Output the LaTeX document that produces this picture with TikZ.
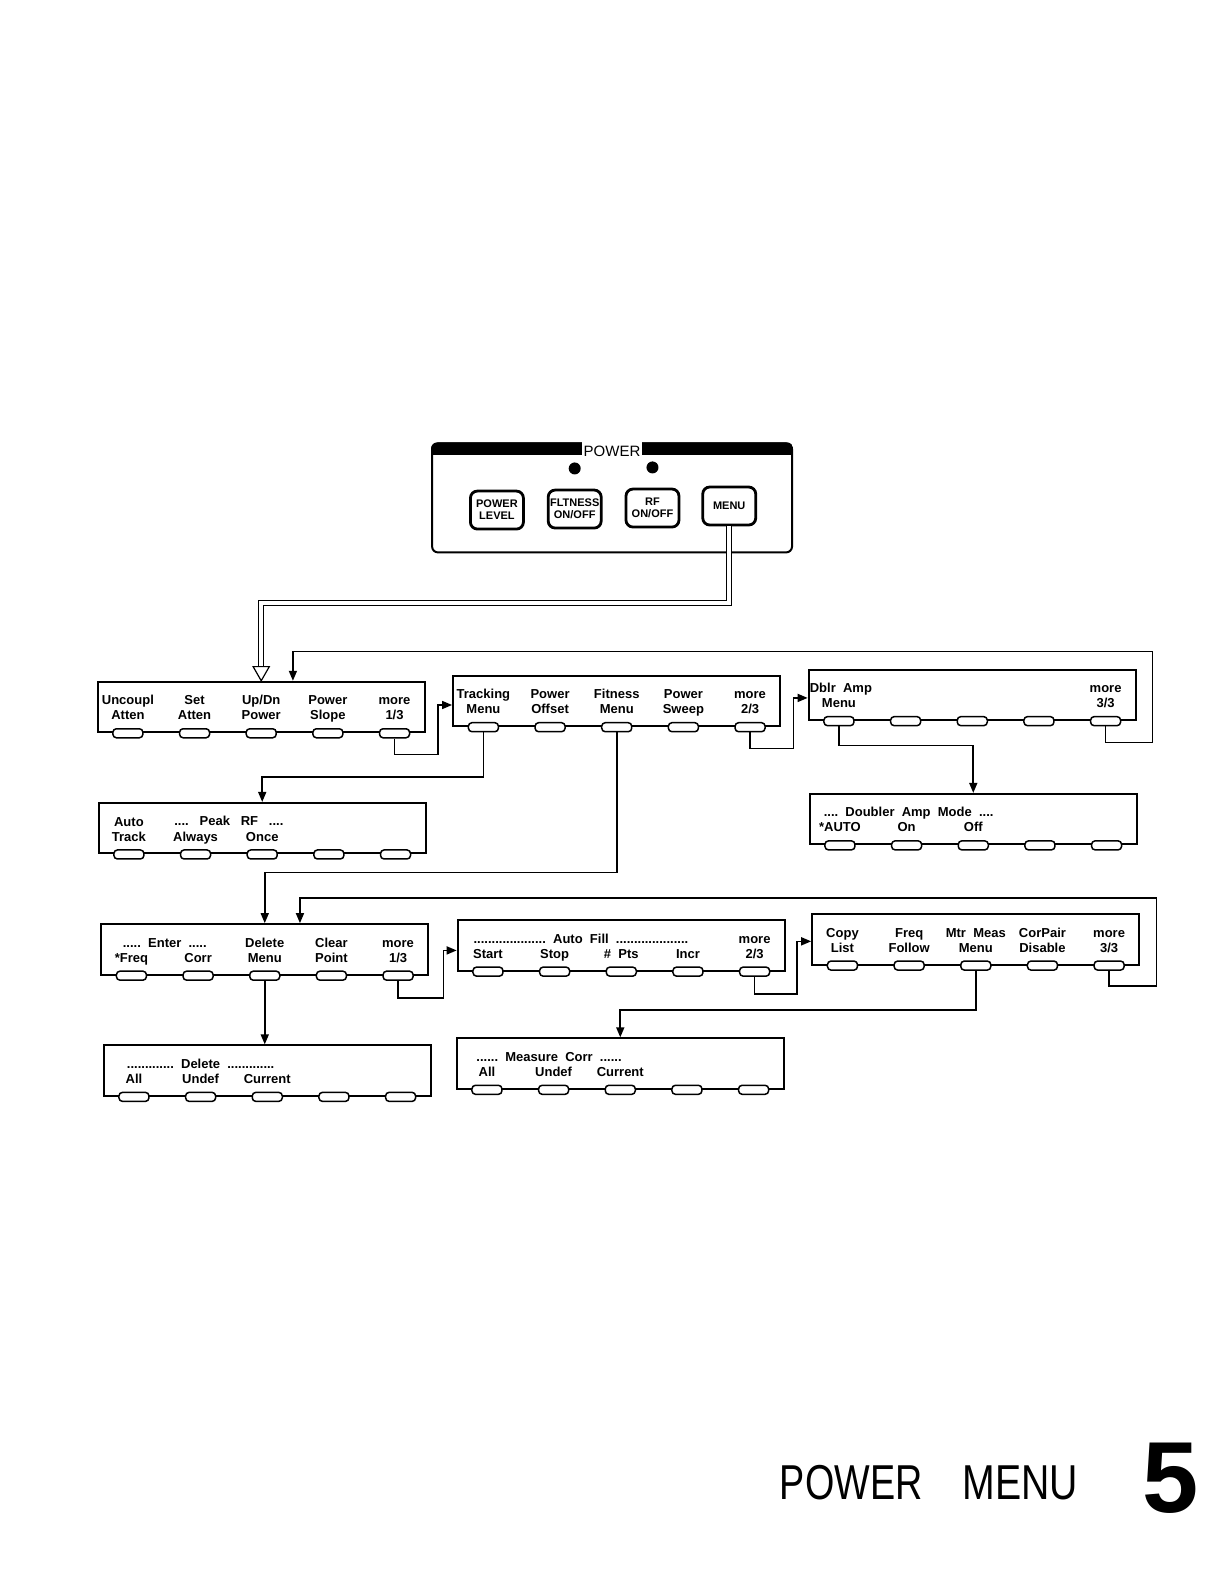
\documentclass[tikz,border=0pt]{standalone}
\usepackage{fontspec}
\setmainfont{Liberation Sans}
\usetikzlibrary{positioning,calc,arrows.meta}

\tikzset{
  menubox/.style={draw, line width=2pt, minimum width=327pt, minimum height=50.5pt, inner sep=0pt},
  softkey/.style={draw, fill=white, line width=1.5pt, rounded corners=3.5pt, minimum width=30pt, minimum height=9pt, inner sep=0pt},
  keylabel/.style={anchor=south, inner sep=0pt, text depth=0pt, align=center, yshift=8pt, font=\fontsize{13}{15}\selectfont\bfseries},
  linelabel/.style={anchor=base, inner sep=0pt, font=\fontsize{13}{15}\selectfont\bfseries},
  pkey/.style={draw, line width=2.8pt, rounded corners=7pt, minimum width=53pt, minimum height=38pt, inner sep=0pt, align=center, font=\fontsize{11}{12}\selectfont\bfseries},
  led/.style={circle, fill, inner sep=0pt, minimum size=12pt},
  link/.style={line width=1.6pt},
}

\newcommand{\softkeys}[1]{%
  \foreach \i in {1,...,5}
    \node[softkey] (#1-\i) at ($(#1.south west)+(31+66*\i-66,0)$) {};}

\begin{document}
\begin{tikzpicture}[x=1.01pt, y=-1.01pt, >={Triangle[length=10pt,width=8pt]}]
\useasboundingbox (0,0) rectangle (1211.9,1568.3);

% front panel
\node[draw, line width=2pt, rounded corners=6pt, minimum width=360pt, minimum height=109pt, inner sep=0pt] (panel) at (606,493) {};
\begin{scope}
  \clip[rounded corners=6pt] (panel.north west) rectangle (panel.south east);
  \fill (panel.north west) rectangle ($(panel.north east)+(0,12)$);
\end{scope}
\node[fill=white, inner xsep=2pt, inner ysep=0.5pt, text height=14pt, anchor=base, font=\fontsize{15}{15}\selectfont] (panelTitle) at ($(panel.north)+(0,13.5)$) {POWER};

\node[pkey] (pLevel) at (492,505) {POWER\\LEVEL};
\node[pkey] (pFlt) at (569,504) {FLTNESS\\ON/OFF};
\node[pkey] (pRf) at (646,503) {RF\\ON/OFF};
\node[pkey] (pMenu) at (722,501) {MENU};

\node[led] (ledFlt) at ($(pFlt.north)+(0,-20)$) {};
\node[led] (ledRf) at ($(pRf.north)+(0,-20)$) {};

% menu pages
\node[menubox] (mA) at (258.5,700) {};
\node[menubox] (mB) at (610.5,694) {};
\node[menubox] (mC) at (962.5,688) {};
\node[menubox] (mD) at (259.5,820) {};
\node[menubox] (mE) at (963.5,811) {};
\node[menubox] (mF) at (262,940) {};
\node[menubox] (mG) at (615,936) {};
\node[menubox] (mH) at (966,930) {};
\node[menubox] (mI) at (264.5,1060) {};
\node[menubox] (mJ) at (614,1053) {};

\foreach \m in {mA,mB,mC,mD,mE,mF,mG,mH,mI,mJ}
  {\softkeys{\m}}

\foreach \t [count=\i] in {{Uncoupl\\Atten},{Set\\Atten},{Up/Dn\\Power},{Power\\Slope},{more\\1/3}}
  \node[keylabel] (mA-l\i) at (mA-\i.north) {\t};

\foreach \t [count=\i] in {{Tracking\\Menu},{Power\\Offset},{Fitness\\Menu},{Power\\Sweep},{more\\2/3}}
  \node[keylabel] (mB-l\i) at (mB-\i.north) {\t};

\node[linelabel, anchor=base west] (mC-t) at ($(mC.south west |- mC-1.north)+(2,-23)$) {Dblr\ \ Amp};
\node[keylabel] (mC-l1) at (mC-1.north) {Menu};
\node[keylabel] (mC-l5) at (mC-5.north) {more\\3/3};

\node[keylabel] (mD-l1) at (mD-1.north) {Auto\\Track};
\node[keylabel] (mD-l2) at (mD-2.north) {Always};
\node[keylabel] (mD-l3) at (mD-3.north) {Once};
\node[linelabel] (mD-t) at ($(mD-2.north)!.5!(mD-3.north)+(0,-23)$) {....\ \ \ Peak\ \ \ RF\ \ \ ....};

\node[linelabel] (mE-t) at ($(mE-2.north)+(2,-23)$) {....\ \ Doubler\ \ Amp\ \ Mode\ \ ....};
\node[keylabel] (mE-l1) at (mE-1.north) {*AUTO};
\node[keylabel] (mE-l2) at (mE-2.north) {On};
\node[keylabel] (mE-l3) at (mE-3.north) {Off};

\node[linelabel] (mF-t) at ($(mF-1.north)!.5!(mF-2.north)+(0,-23)$) {.....\ \ Enter\ \ .....};
\foreach \t [count=\i] in {{*Freq},{Corr},{Delete\\Menu},{Clear\\Point},{more\\1/3}}
  \node[keylabel] (mF-l\i) at (mF-\i.north) {\t};

\node[linelabel] (mG-t) at ($(mG-2.north)!.5!(mG-3.north)+(-7,-23)$) {....................\ \ Auto\ \ Fill\ \ ....................};
\foreach \t [count=\i] in {{Start},{Stop},{\#\ \ Pts},{Incr},{more\\2/3}}
  \node[keylabel] (mG-l\i) at (mG-\i.north) {\t};

\foreach \t [count=\i] in {{Copy\\List},{Freq\\Follow},{Mtr\ \ Meas\\Menu},{CorPair\\Disable},{more\\3/3}}
  \node[keylabel] (mH-l\i) at (mH-\i.north) {\t};

\node[linelabel] (mI-t) at ($(mI-2.north)+(0,-23)$) {.............\ \ Delete\ \ .............};
\foreach \t [count=\i] in {{All},{Undef},{Current}}
  \node[keylabel] (mI-l\i) at (mI-\i.north) {\t};

\node[linelabel] (mJ-t) at ($(mJ-2.north)+(-4.5,-23)$) {......\ \ Measure\ \ Corr\ \ ......};
\foreach \t [count=\i] in {{All},{Undef},{Current}}
  \node[keylabel] (mJ-l\i) at (mJ-\i.north) {\t};

% MENU key into the first page
\coordinate (menuBend) at (0,597);
\coordinate (hollowTip) at ($(mA-3 |- mA.north)+(0,-14)$);
\draw[line width=1.3pt, double=white, double distance=3.5pt] (pMenu.south) |- (hollowTip |- menuBend) -- (hollowTip);
\draw[line width=1.2pt, fill=white] ($(hollowTip)+(-8,0)$) -- ($(hollowTip)+(8,0)$) -- (mA-3 |- mA.north) -- cycle;

% page to page
\draw[link, ->] (mA-5.south) -- ++(0,16) -| ($(mB.west)+(-14,4)$) -- ($(mB.west)+(0,4)$);
\draw[link, ->] (mB-5.south) -- ++(0,16) -| ($(mC.west)+(-14,3)$) -- ($(mC.west)+(0,3)$);
\draw[link, ->] (mF-5.south) -- ++(0,17) -| ($(mG.west)+(-13,5)$) -- ($(mG.west)+(0,5)$);
\draw[link, ->] (mG-5.south) -- ++(0,17) -| ($(mH.west)+(-14,2)$) -- ($(mH.west)+(0,2)$);

\coordinate (loopTopR) at (1141,645);
\coordinate (loopTopL) at (290,645);
\draw[link, ->] (mC-5.south) -- ++(0,16) -| (loopTopR) -- (loopTopL) -- (loopTopL |- mA.north);

\coordinate (loopMidR) at (1145,889);
\coordinate (loopMidL) at (297,889);
\draw[link, ->] (mH-5.south) -- ++(0,15) -| (loopMidR) -- (loopMidL) -- (loopMidL |- mF.north);

% sub menus
\coordinate (trackBend) at (0,769);
\draw[link, ->] (mB-1.south) |- (mD-3 |- trackBend) -- (mD-3 |- mD.north);

\coordinate (dblrBend) at (0,738);
\draw[link, ->] (mC-1.south) |- (mE-3 |- dblrBend) -- (mE-3 |- mE.north);

\coordinate (fitBend) at (0,864);
\draw[link, ->] (mB-3.south) |- (mF-3 |- fitBend) -- (mF-3 |- mF.north);

\draw[link, ->] (mF-3.south) -- (mF-3.south |- mI.north);

\coordinate (measBend) at (0,1000);
\draw[link, ->] (mH-3.south) |- (mJ-3 |- measBend) -- (mJ-3 |- mJ.north);

% chapter title
\node[anchor=base west, font=\fontsize{49}{49}\selectfont, xscale=0.77, inner sep=0pt] (titlePower) at (772,1485) {POWER};
\node[anchor=base west, font=\fontsize{49}{49}\selectfont, xscale=0.8, inner sep=0pt] (titleMenu) at (953,1485) {MENU};
\node[anchor=base west, font=\fontsize{101}{101}\selectfont\bfseries, inner sep=0pt] (chapterNo) at (1131,1497) {5};

\end{tikzpicture}
\end{document}
